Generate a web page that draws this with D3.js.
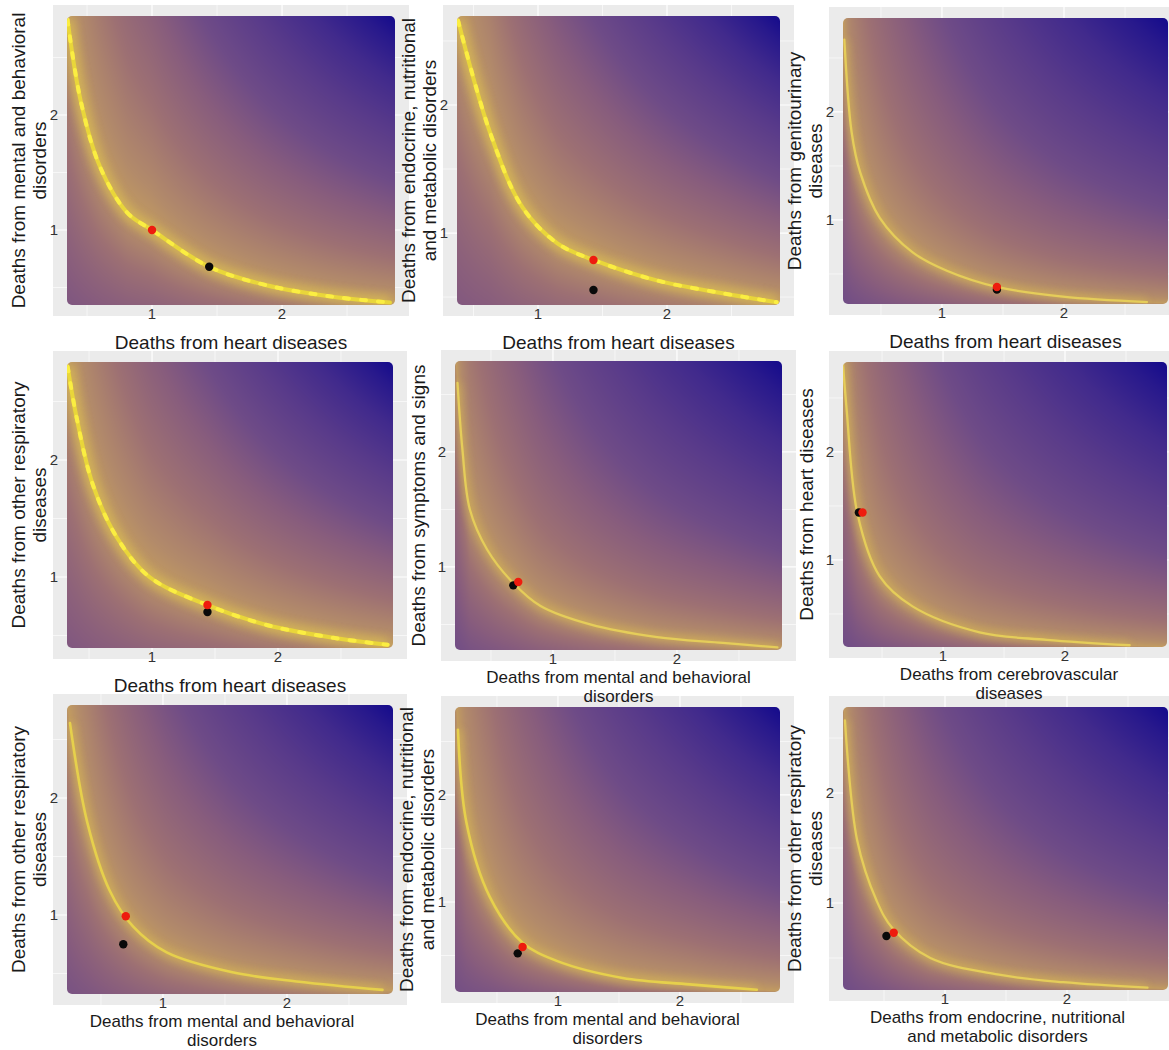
<!DOCTYPE html>
<html>
<head>
<meta charset="utf-8">
<script src="https://cdn.jsdelivr.net/npm/d3@7"></script>
<style>
  body { margin: 0; background: #fff; }
  svg text { font-family: "Liberation Sans", Arial, sans-serif; }
</style>
</head>
<body>
<svg id="chart" width="1169" height="1050"></svg>
<script>
// axis titles, one entry per panel (row by row)
const xTitles = [
  ["Deaths from heart diseases"],
  ["Deaths from heart diseases"],
  ["Deaths from heart diseases"],
  ["Deaths from heart diseases"],
  ["Deaths from mental and behavioral", "disorders"],
  ["Deaths from cerebrovascular", "diseases"],
  ["Deaths from mental and behavioral", "disorders"],
  ["Deaths from mental and behavioral", "disorders"],
  ["Deaths from endocrine, nutritional", "and metabolic disorders"]
];
const yTitles = [
  ["Deaths from mental and behavioral", "disorders"],
  ["Deaths from endocrine, nutritional", "and metabolic disorders"],
  ["Deaths from genitourinary", "diseases"],
  ["Deaths from other respiratory", "diseases"],
  ["Deaths from symptoms and signs"],
  ["Deaths from heart diseases"],
  ["Deaths from other respiratory", "diseases"],
  ["Deaths from endocrine, nutritional", "and metabolic disorders"],
  ["Deaths from other respiratory", "diseases"]
];

// the bright ridge of each panel
const curveX = [
  [0.35, 0.45, 0.60, 0.81, 1.00, 1.44, 1.88, 2.39, 2.83],
  [0.38, 0.63, 0.88, 1.15, 1.43, 1.92, 2.43, 2.85],
  [0.20, 0.26, 0.33, 0.49, 0.76, 1.04, 1.45, 1.99, 2.68],
  [0.33, 0.40, 0.53, 0.72, 0.98, 1.44, 1.91, 2.44, 2.87],
  [0.23, 0.27, 0.33, 0.47, 0.68, 0.90, 1.30, 1.84, 2.37, 2.81],
  [0.18, 0.21, 0.30, 0.48, 0.75, 1.30, 1.85, 2.53],
  [0.25, 0.39, 0.57, 0.76, 1.03, 1.56, 2.10, 2.77],
  [0.18, 0.25, 0.44, 0.71, 0.99, 1.53, 2.08, 2.63],
  [0.18, 0.28, 0.44, 0.57, 0.88, 1.43, 1.97, 2.66]
];
const curveY = [
  [2.83, 2.13, 1.55, 1.15, 1.00, 0.68, 0.52, 0.42, 0.37],
  [2.66, 1.78, 1.20, 0.92, 0.79, 0.63, 0.53, 0.46],
  [2.67, 1.81, 1.44, 1.02, 0.70, 0.53, 0.38, 0.29, 0.24],
  [2.80, 2.37, 1.79, 1.34, 1.00, 0.76, 0.59, 0.48, 0.42],
  [2.60, 2.02, 1.50, 1.15, 0.86, 0.66, 0.50, 0.39, 0.34, 0.30],
  [2.82, 2.39, 1.42, 0.85, 0.57, 0.33, 0.26, 0.21],
  [2.64, 1.79, 1.21, 0.90, 0.68, 0.51, 0.43, 0.36],
  [2.61, 1.74, 1.05, 0.62, 0.45, 0.29, 0.23, 0.18],
  [2.66, 1.57, 1.02, 0.77, 0.50, 0.35, 0.28, 0.23]
];

// red and black points
const redX = [1.00, 1.43, 1.45, 1.44, 0.72, 0.34, 0.70, 0.71, 0.58];
const redY = [1.00, 0.79, 0.38, 0.76, 0.87, 1.44, 0.99, 0.58, 0.73];
const blackX = [1.44, 1.43, 1.45, 1.44, 0.68, 0.31, 0.68, 0.67, 0.52];
const blackY = [0.68, 0.555, 0.355, 0.70, 0.84, 1.44, 0.75, 0.52, 0.70];

const majorTicks = [1, 2];
const minorTicks = [0.5, 1.5, 2.5];

// layout: tile area in px and its data extent
const boxes = [
  {l: 67,  r: 395,  t: 16,  b: 305, xd: [0.346, 2.869], yd: [0.348, 2.861], dx: 0},
  {l: 457, r: 780,  t: 16,  b: 305, xd: [0.372, 2.876], yd: [0.438, 2.695], dx: 0},
  {l: 843, r: 1168, t: 18,  b: 304, xd: [0.189, 2.852], yd: [0.222, 2.870], dx: 0},
  {l: 67,  r: 393,  t: 362, b: 648, xd: [0.325, 2.913], yd: [0.393, 2.838], dx: 0},
  {l: 455, r: 782,  t: 361, b: 650, xd: [0.210, 2.847], yd: [0.278, 2.791], dx: 0},
  {l: 843, r: 1167, t: 362, b: 647, xd: [0.180, 2.836], yd: [0.194, 2.833], dx: 4},
  {l: 67,  r: 393,  t: 705, b: 994, xd: [0.226, 2.855], yd: [0.325, 2.795], dx: -8},
  {l: 455, r: 780,  t: 707, b: 992, xd: [0.156, 2.820], yd: [0.159, 2.822], dx: -10},
  {l: 843, r: 1168, t: 707, b: 990, xd: [0.164, 2.828], yd: [0.209, 2.782], dx: -8}
];

const warm = {gamma: 1.0, kb: 0.44, gb: 0.85, core: 4, coreColor: "#e9d63a", beads: true, glowW: 14, glowOp: 0.6};
const mid = {gamma: 0.9, kb: 0.47, gb: 0.82, core: 2.6, coreColor: "#e6d04c", beads: false, glowW: 9, glowOp: 0.45};
const cool = {gamma: 0.8, kb: 0.5, gb: 0.8, core: 2.3, coreColor: "#e5cd5a", beads: false, glowW: 8, glowOp: 0.4};
const styles = [warm, warm, cool, warm, cool, cool, mid, mid, cool];

const ramp = d3.scaleLinear()
  .domain([0, 0.07, 0.2, 0.35, 0.48, 0.65, 0.8, 0.92, 1])
  .range(["#c29c60", "#b28a6a", "#9d7073", "#875c7d", "#6e4b87", "#583a8a", "#412a8c", "#28198c", "#140a8c"])
  .clamp(true);

// lookup table so we don't parse colours per pixel
const LUT = d3.range(512).map(k => d3.rgb(ramp(k / 511)));

const svg = d3.select("#chart");
const defs = svg.append("defs");
defs.append("filter").attr("id", "glow")
  .attr("x", "-20%").attr("y", "-20%").attr("width", "140%").attr("height", "140%")
  .append("feGaussianBlur").attr("stdDeviation", 4);

const bg = svg.append("g");
const fg = svg.append("g");
const txt = svg.append("g");

boxes.forEach(function(b, i) {
  let x = d3.scaleLinear().domain(b.xd).range([b.l, b.r]);
  let y = d3.scaleLinear().domain(b.yd).range([b.b, b.t]);
  let st = styles[i];

  // grey panel with ggplot-ish grid
  let gx0 = b.l - 14, gx1 = b.r + 14, gy0 = b.t - 11, gy1 = b.b + 11;
  bg.append("rect")
    .attr("x", gx0).attr("y", gy0)
    .attr("width", gx1 - gx0).attr("height", gy1 - gy0)
    .attr("fill", "#ebebeb");

  [[minorTicks, 0.6], [majorTicks, 1.2]].forEach(function(g) {
    bg.selectAll(null).data(g[0]).enter().append("line")
      .attr("x1", d => x(d)).attr("x2", d => x(d))
      .attr("y1", gy0).attr("y2", gy1)
      .attr("stroke", "#fff").attr("stroke-width", g[1]);
    bg.selectAll(null).data(g[0]).enter().append("line")
      .attr("x1", gx0).attr("x2", gx1)
      .attr("y1", d => y(d)).attr("y2", d => y(d))
      .attr("stroke", "#fff").attr("stroke-width", g[1]);
  });

  // clip for the tile area
  defs.append("clipPath").attr("id", "clip" + i)
    .append("rect")
    .attr("x", b.l).attr("y", b.t)
    .attr("width", b.r - b.l).attr("height", b.b - b.t)
    .attr("rx", 5);

  // shaded field, coloured by how far x*y sits from the ridge
  let w = b.r - b.l, h = b.b - b.t;
  let cv = document.createElement("canvas");
  cv.width = w; cv.height = h;
  let ctx = cv.getContext("2d");
  let img = ctx.createImageData(w, h);
  let f = d3.scaleLinear().domain(curveX[i].map(Math.log)).range(curveY[i].map(Math.log));
  let yc = v => Math.exp(f(Math.log(v)));
  let P = b.xd[1] * b.yd[1], R = b.xd[1] * yc(b.xd[1]);
  let Ul = P - R, Us = Math.sqrt(P) - Math.sqrt(R);
  for (let px = 0; px < w; px++) {
    let xv = x.invert(b.l + px + 0.5);
    let ridge = xv * yc(xv);
    let sr = Math.sqrt(ridge);
    for (let py = 0; py < h; py++) {
      let yv = y.invert(b.t + py + 0.5);
      let p = xv * yv;
      let r;
      if (p > ridge) {
        r = Math.pow(0.5 * (p - ridge) / Ul + 0.5 * (Math.sqrt(p) - sr) / Us, st.gamma);
      } else {
        r = st.kb * Math.pow(1 - p / ridge, st.gb);
      }
      let c = LUT[Math.max(0, Math.min(511, Math.round(r * 511)))];
      let k = (py * w + px) * 4;
      img.data[k] = c.r; img.data[k + 1] = c.g; img.data[k + 2] = c.b; img.data[k + 3] = 255;
    }
  }
  ctx.putImageData(img, 0, 0);

  let panel = fg.append("g").attr("clip-path", "url(#clip" + i + ")");
  panel.append("image")
    .attr("x", b.l).attr("y", b.t)
    .attr("width", w).attr("height", h)
    .attr("href", cv.toDataURL());

  // the ridge line
  let pts = d3.zip(curveX[i], curveY[i]);
  let line = d3.line().x(d => x(d[0])).y(d => y(d[1])).curve(d3.curveCatmullRom.alpha(0.5));
  panel.append("path").attr("d", line(pts))
    .attr("fill", "none").attr("stroke", "#dcbf52")
    .attr("stroke-width", st.glowW).attr("opacity", st.glowOp)
    .attr("filter", "url(#glow)");
  panel.append("path").attr("d", line(pts))
    .attr("fill", "none").attr("stroke", st.coreColor)
    .attr("stroke-width", st.core).attr("stroke-linecap", "round");
  if (st.beads) {
    panel.append("path").attr("d", line(pts))
      .attr("fill", "none").attr("stroke", "#fbee42")
      .attr("stroke-width", st.core)
      .attr("stroke-dasharray", "5 12").attr("stroke-linecap", "round");
  }

  // points
  panel.append("circle").attr("cx", x(blackX[i])).attr("cy", y(blackY[i]))
    .attr("r", 4.2).attr("fill", "#0a0a0a");
  panel.append("circle").attr("cx", x(redX[i])).attr("cy", y(redY[i]))
    .attr("r", 4.2).attr("fill", "#ee1c0e");

  // tick labels
  txt.selectAll(null).data(majorTicks).enter().append("text")
    .attr("x", d => x(d)).attr("y", b.b + 14)
    .attr("text-anchor", "middle")
    .attr("font-size", 15).attr("fill", "#333")
    .text(d => d);
  txt.selectAll(null).data(majorTicks).enter().append("text")
    .attr("x", b.l - 13).attr("y", d => y(d))
    .attr("dy", "0.35em")
    .attr("text-anchor", "middle")
    .attr("font-size", 15).attr("fill", "#333")
    .text(d => d);

  // x title
  let xl = xTitles[i];
  let xOff = xl.length === 1 ? [43.5] : [33, 52];
  xl.forEach(function(s, j) {
    txt.append("text")
      .attr("x", (b.l + b.r) / 2 + b.dx).attr("y", b.b + xOff[j])
      .attr("text-anchor", "middle")
      .attr("font-size", xl.length === 1 ? 19 : 17).attr("fill", "#1a1a1a")
      .text(s);
  });

  // y title, rotated
  let yl = yTitles[i];
  let yOff = yl.length === 1 ? [-37] : [-49, -28];
  yl.forEach(function(s, j) {
    txt.append("text")
      .attr("transform", "translate(" + (b.l + yOff[j]) + "," + ((b.t + b.b) / 2) + ") rotate(-90)")
      .attr("dy", "0.35em")
      .attr("text-anchor", "middle")
      .attr("font-size", 19).attr("fill", "#1a1a1a")
      .text(s);
  });
});
</script>
</body>
</html>
